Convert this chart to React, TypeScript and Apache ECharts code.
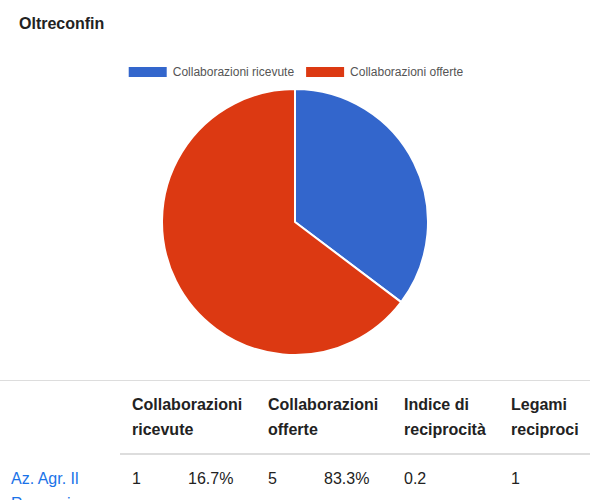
import {useEffect, useRef} from 'react';
import * as echarts from 'echarts';

const seriesNames = ['Collaborazioni ricevute', 'Collaborazioni offerte'];
const pieValues = [6, 11];
const colors = ['#3366cc', '#dc3912'];
const headers = ['Collaborazioni ricevute', 'Collaborazioni offerte', 'Indice di reciprocità', 'Legami reciproci'];
const rowName = 'Az. Agr. Il Rosmarino';
const rowCells = ['1', '16.7%', '5', '83.3%', '0.2', '1'];
const cellX = [132, 188, 268, 324, 404, 511];
const headerX = [132, 268, 404, 511];

const FONT = 'Liberation Sans, Arial, sans-serif';

export default function App() {
    const chartRef = useRef<HTMLDivElement | null>(null);

    useEffect(() => {
        const el = chartRef.current;
        if (!el) return;
        const chart = echarts.init(el, undefined, {renderer: 'svg'});
        chart.setOption({
            animation: false,
            title: {
                text: 'Oltreconfin', left: 14, top: 10,
                textStyle: {fontSize: 16, fontWeight: 'bold', color: '#222', fontFamily: FONT},
            },
            legend: {
                top: 60, left: 'center', itemWidth: 40, itemHeight: 12, itemGap: 10,
                icon: 'rect',
                textStyle: {fontSize: 12, color: '#555', fontFamily: FONT},
                data: seriesNames,
            },
            color: colors,
            series: [{
                type: 'pie', center: [295, 222], radius: 133, startAngle: 90, clockwise: true,
                label: {show: false}, labelLine: {show: false},
                itemStyle: {borderColor: '#fff', borderWidth: 2},
                data: seriesNames.map((n, i) => ({name: n, value: pieValues[i]})),
            }],
        });
        return () => chart.dispose();
    }, []);

    const font = {fontFamily: FONT, fontSize: 16, lineHeight: '25px', color: '#222'};
    return (
        <div style={{position: 'fixed', left: 0, top: 0, width: 590, height: 500, background: '#fff', overflow: 'hidden'}}>
            <div ref={chartRef} style={{width: 590, height: 380}}/>
            <div style={{position: 'absolute', left: 0, top: 380, width: 590, borderTop: '1px solid #ddd'}}/>
            {headerX.map((x, i) => (
                <div key={i} style={{...font, position: 'absolute', left: x, top: 392, width: 120, fontWeight: 'bold'}}>
                    {headers[i]}
                </div>
            ))}
            <div style={{position: 'absolute', left: 120, top: 453, width: 470, borderTop: '2px solid #ddd'}}/>
            <div style={{...font, position: 'absolute', left: 11, top: 466, width: 90, color: '#1a73e8'}}>{rowName}</div>
            {cellX.map((x, i) => (
                <div key={i} style={{...font, position: 'absolute', left: x, top: 466}}>{rowCells[i]}</div>
            ))}
        </div>
    );
}
